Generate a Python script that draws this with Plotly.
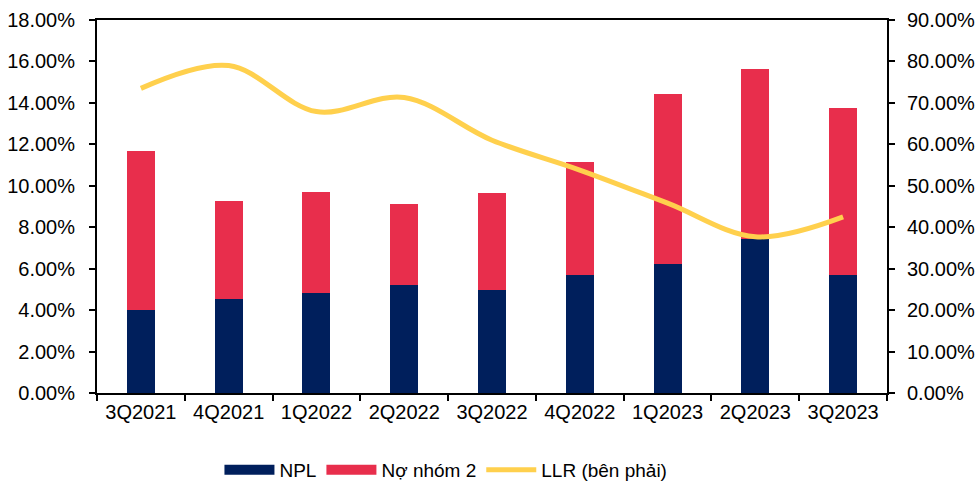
import plotly.graph_objects as go

# Dati
quarters = ["3Q2021", "4Q2021", "1Q2022", "2Q2022", "3Q2022", "4Q2022", "1Q2023", "2Q2023", "3Q2023"]
npl = [4.00, 4.55, 4.81, 5.23, 4.99, 5.71, 6.23, 7.45, 5.71]
no_nhom_2 = [7.69, 4.73, 4.90, 3.89, 4.68, 5.42, 8.20, 8.17, 8.03]
llr = [73.5, 79.0, 67.9, 71.3, 61.0, 53.8, 45.8, 37.7, 42.5]

navy = "#001F5C"
red = "#E82E4C"
yellow = "#FFD04D"
FONT = "Liberation Sans, Arial, sans-serif"

fig = go.Figure()

# Barre impilate
fig.add_trace(go.Bar(x=quarters, y=[v / 100 for v in npl], name="NPL",
                     marker=dict(color=navy, line=dict(width=0)), showlegend=False))
fig.add_trace(go.Bar(x=quarters, y=[v / 100 for v in no_nhom_2], name="Nợ nhóm 2",
                     marker=dict(color=red, line=dict(width=0)), showlegend=False))

# Linea LLR sull'asse destro
fig.add_trace(go.Scatter(x=quarters, y=[v / 100 for v in llr], name="LLR (bên phải)",
                         mode="lines", line=dict(color=yellow, width=5, shape="spline", smoothing=1.0),
                         yaxis="y2", showlegend=False))

# Voci di legenda (rettangoli larghi)
for name, color in [("NPL", navy), ("Nợ nhóm 2", red), ("LLR (bên phải)", yellow)]:
    fig.add_trace(go.Scatter(x=[None], y=[None], mode="lines", name=name,
                             line=dict(color=color, width=12 if color != yellow else 5)))

tick_font = dict(family=FONT, size=20, color="black")

fig.update_layout(
    width=979, height=482,
    barmode="stack", bargap=0.68,
    plot_bgcolor="white", paper_bgcolor="white",
    font=dict(family=FONT, size=20, color="black"),
    margin=dict(l=97, r=92, t=20, b=89, autoexpand=False),
    legend=dict(orientation="h", x=0.155, xanchor="left", y=-0.155, yanchor="top",
                font=dict(family=FONT, size=19, color="black"), itemwidth=50,
                traceorder="normal"),
    xaxis=dict(showline=True, linecolor="black", linewidth=2, mirror=True, automargin=False,
               ticks="outside", tickson="boundaries", ticklen=6, tickcolor="black", tickwidth=2,
               showgrid=False, tickfont=tick_font),
    yaxis=dict(range=[0, 0.18], dtick=0.02, tickformat=".2%", showline=True, linecolor="black",
               linewidth=2, ticks="outside", ticklen=6, tickcolor="black", tickwidth=2,
               showgrid=False, zeroline=False, tickfont=tick_font, automargin=False,
               ticklabelstandoff=10),
    yaxis2=dict(range=[0, 0.90], dtick=0.10, tickformat=".2%", overlaying="y", side="right",
                showline=True, linecolor="black", linewidth=2, ticks="outside", ticklen=6,
                tickcolor="black", tickwidth=2, showgrid=False, zeroline=False, tickfont=tick_font,
                automargin=False, ticklabelstandoff=8),
)

# togli il margine del body così la figura parte da (0, 0)
fig.write_html("out.html", config={"displayModeBar": False},
               post_script="document.body.style.margin='0';")
